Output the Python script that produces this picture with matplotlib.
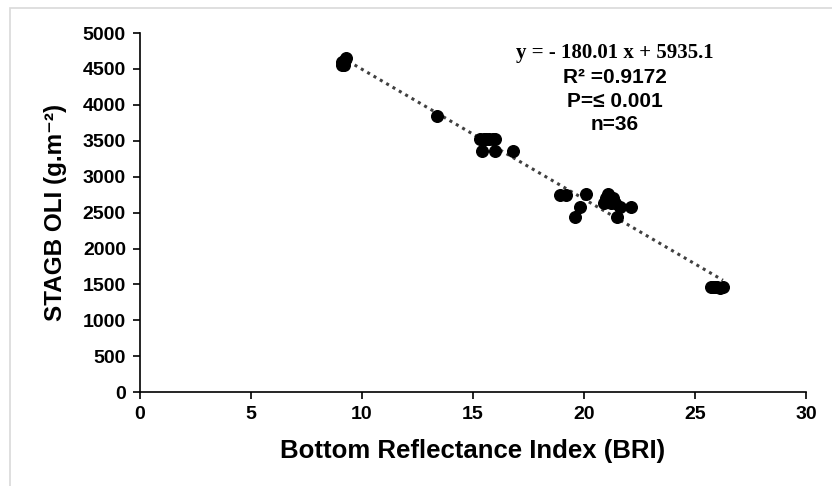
import numpy as np
import matplotlib.pyplot as plt
from matplotlib.patches import Rectangle

plt.rcParams['font.family'] = ['Liberation Sans', 'DejaVu Sans']
plt.rcParams['font.weight'] = 'bold'
plt.rcParams['axes.labelweight'] = 'bold'

# BRI vs STAGB
bri = [9.1, 9.2, 9.3, 9.1, 9.2, 9.25,
       13.4,
       15.3, 15.5, 15.6, 15.7, 15.9, 16.0, 15.4, 16.0, 16.8,
       18.9, 19.2, 20.1, 21.1, 19.6, 19.8, 20.9, 21.2, 21.4, 21.6, 22.1, 21.5, 21.3, 21.0,
       25.7, 25.8, 25.9, 26.0, 26.1, 26.25]
stagb = [4550, 4600, 4650, 4600, 4550, 4620,
         3850,
         3520, 3520, 3520, 3520, 3520, 3520, 3360, 3360, 3360,
         2750, 2750, 2760, 2760, 2440, 2580, 2640, 2640, 2640, 2580, 2580, 2440, 2700, 2700,
         1460, 1460, 1460, 1460, 1450, 1460]

eq_lines = ["R² =0.9172", "P=≤ 0.001", "n=36"]

fig = plt.figure(figsize=(8.32, 4.86), dpi=100)
ax = fig.add_axes([0.168, 0.193, 0.801, 0.739])

# light frame around the chart area
fig.patches.append(Rectangle((10 / 832, -0.1), 1.2, 1 - 8 / 486 + 0.1,
                             transform=fig.transFigure, fill=False,
                             edgecolor='#d9d9d9', linewidth=1.2))

ax.scatter(bri, stagb, s=70, color='black', zorder=3)

# linear trendline over the data range
k, b = np.polyfit(bri, stagb, 1)
xs = np.array([min(bri), max(bri)])
ax.plot(xs, k * xs + b, color='#404040', linewidth=2.2,
        linestyle=(0, (1, 1.4)), zorder=2)

ax.set_xlim(0, 30)
ax.set_ylim(0, 5000)
ax.set_xticks(range(0, 31, 5))
ax.set_yticks(range(0, 5001, 500))
for s in ['top', 'right']:
    ax.spines[s].set_visible(False)
for s in ['left', 'bottom']:
    ax.spines[s].set_linewidth(1.2)
ax.tick_params(direction='out', length=5, width=1.2, labelsize=14, pad=5)

ax.set_xlabel('Bottom Reflectance Index (BRI)', fontsize=18.5,
              fontweight='bold', va='center')
ax.set_ylabel('STAGB OLI (g.m⁻²)', fontsize=17.5,
              fontweight='bold', va='center')
ax.xaxis.set_label_coords(0.5, -0.165)
ax.yaxis.set_label_coords(-0.126, 0.5)

ax.text(0.713, 0.944, 'y = - 180.01 x + 5935.1', transform=ax.transAxes,
        ha='center', va='center', fontsize=15, fontweight='bold',
        family=['Liberation Serif', 'DejaVu Serif'])
for i, t in enumerate(eq_lines):
    ax.text(0.713, 0.875 - i * 0.065, t, transform=ax.transAxes,
            ha='center', va='center', fontsize=15, fontweight='bold')

fig.savefig('out.png', dpi=100)
